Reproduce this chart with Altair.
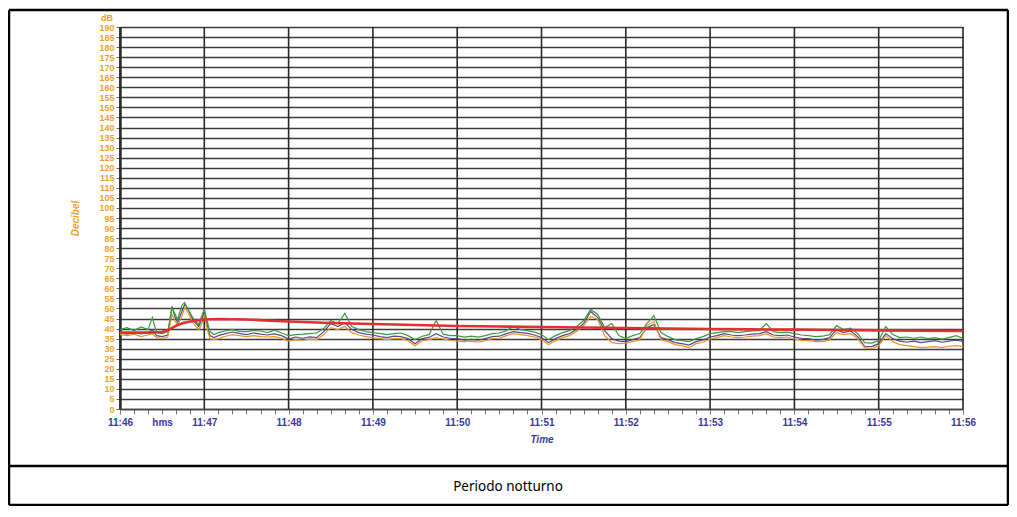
import altair as alt
import pandas as pd

# sample times in seconds after 11:46:00
t_head = [0, 5, 10, 15, 20, 23, 26, 30, 34, 37, 39, 41, 44, 46, 48, 51, 53, 56, 58, 60, 62, 64, 67, 70]
t_tail = list(range(75, 601, 5))
times = t_head + t_tail

purple = [37.8, 37.2, 38.0, 37.4, 37.9, 39.5, 36.5, 36.0, 36.8, 51.0, 46.0, 43.0, 48.5, 52.0, 50.5, 45.5, 43.5, 41.0, 44.0, 48.5, 42.0, 36.5, 35.5, 36.5,
          37.5, 38.3, 37.6, 37.0, 37.8, 37.2, 36.8, 37.4, 36.5, 34.8,
          35.8, 35.2, 35.9, 35.5, 38.5, 42.5, 41.0, 43.0, 39.5, 38.0,
          37.2, 36.8, 36.0, 35.5, 36.2, 36.0, 35.0, 32.5, 35.0, 35.6,
          37.5, 35.8, 35.2, 35.0, 34.3, 34.6, 34.2, 35.0, 36.0, 36.2,
          37.5, 38.5, 38.0, 37.6, 36.8, 35.5, 33.0, 35.0, 36.5, 37.5,
          39.5, 42.5, 48.5, 45.5, 39.0, 35.0, 33.8, 33.5, 34.5, 35.5,
          40.5, 42.0, 35.5, 34.5, 33.0, 32.5, 31.8, 33.5, 34.3, 35.8,
          36.5, 37.5, 36.8, 36.5, 36.8, 37.2, 37.5, 38.5, 36.8, 36.5,
          36.8, 35.8, 35.2, 35.0, 34.3, 34.5, 35.5, 39.5, 38.0, 38.8,
          36.0, 31.2, 31.0, 32.5, 37.5, 35.0, 33.8, 33.2, 33.8, 33.0,
          33.5, 34.0, 33.2, 33.8, 34.2, 33.6]

green = [39.5, 40.5, 39.0, 40.8, 39.5, 45.5, 38.0, 37.5, 38.5, 50.5, 47.5, 44.5, 51.5, 53.0, 50.0, 46.5, 44.0, 42.0, 46.0, 49.5, 44.0, 38.5, 37.0, 38.0,
         38.8, 39.5, 38.6, 38.5, 39.0, 38.8, 38.0, 39.2, 37.8, 36.5,
         37.0, 37.2, 37.5, 37.8, 40.0, 44.0, 42.5, 47.5, 41.0, 39.5,
         38.5, 38.0, 37.5, 37.0, 37.5, 37.8, 36.5, 34.5, 36.2, 37.0,
         44.0, 37.2, 36.5, 36.5, 35.8, 36.2, 35.8, 36.5, 37.5, 37.8,
         39.0, 41.0, 39.5, 39.0, 38.2, 37.0, 34.5, 36.5, 38.0, 39.0,
         41.0, 44.0, 49.5, 47.0, 40.5, 42.5, 36.5, 35.0, 36.5, 37.5,
         42.5, 46.5, 38.0, 36.0, 34.5, 34.0, 33.5, 35.0, 36.0, 37.5,
         38.0, 38.5, 38.5, 38.0, 38.5, 38.8, 39.0, 42.5, 38.5, 38.0,
         38.2, 37.5, 36.8, 36.5, 36.0, 36.2, 37.0, 41.5, 39.5, 40.2,
         37.5, 33.0, 32.8, 34.0, 41.0, 37.0, 35.5, 35.8, 35.2, 35.8,
         35.0, 35.5, 34.8, 35.5, 36.5, 35.2]

orange = [37.0, 36.5, 37.2, 36.0, 36.8, 37.5, 35.5, 35.0, 35.8, 47.0, 44.0, 41.5, 46.0, 50.5, 48.5, 44.0, 42.0, 39.5, 42.0, 46.5, 40.0, 35.0, 34.5, 35.0,
          36.2, 37.0, 36.5, 36.0, 36.5, 36.0, 35.8, 36.0, 35.2, 33.8,
          34.5, 34.2, 34.8, 34.5, 37.0, 40.5, 39.5, 41.0, 38.0, 36.8,
          36.0, 35.5, 35.0, 34.5, 35.0, 35.0, 34.0, 31.5, 34.0, 34.5,
          35.5, 34.8, 34.2, 33.8, 33.5, 33.8, 33.2, 34.0, 35.0, 35.2,
          36.5, 37.5, 37.0, 36.5, 35.8, 34.5, 32.0, 34.0, 35.5, 36.5,
          38.5, 41.5, 46.0, 44.5, 36.5, 33.0, 32.5, 32.8, 33.5, 34.5,
          41.5, 43.5, 34.5, 33.5, 32.0, 31.5, 30.5, 32.5, 33.2, 34.8,
          35.5, 36.5, 35.8, 35.5, 35.8, 36.2, 36.5, 37.5, 35.8, 35.5,
          35.8, 34.8, 34.2, 34.0, 33.5, 33.5, 34.5, 38.0, 37.0, 37.5,
          35.0, 30.5, 30.0, 31.5, 36.5, 33.5, 32.0, 31.5, 31.0, 30.5,
          30.8, 31.0, 30.5, 31.2, 31.5, 31.0]

red_t = [0, 20, 30, 35, 40, 45, 50, 60, 70, 90, 120, 150, 180, 210, 240, 270, 300, 330, 360, 390, 420, 450, 480, 510, 540, 570, 600]
red_v = [38.0, 38.0, 38.3, 39.5, 41.5, 42.8, 43.5, 44.5, 44.8, 44.5, 43.5, 42.8, 42.3, 41.8, 41.3, 41.0, 40.8, 40.5, 40.3, 40.0, 39.8, 39.6, 39.5, 39.3, 39.1, 38.9, 38.8]

minute_marks = list(range(0, 601, 60))
tick_marks = list(range(0, 601, 10))
y_ticks = list(range(0, 191, 5))

W, H = 843, 382
ORANGE = "#f0a030"
BLUE = "#3a3a9a"

xs = alt.Scale(domain=[0, 600], nice=False)
ys = alt.Scale(domain=[0, 190], nice=False)

x_axis = alt.Axis(values=tick_marks, grid=False,
                  labelExpr="datum.value == 30 ? 'hms' : (datum.value % 60 == 0 ? '11:' + (46 + datum.value / 60) : '')",
                  labelColor=BLUE, labelFont="Liberation Sans", labelFontWeight="bold", labelFontSize=10,
                  labelPadding=3, labelOverlap=False, labelFlush=False,
                  tickColor="#777", tickSize=5, tickWidth=1, domainColor="#444", domainWidth=1.5,
                  title="Time", titleColor=BLUE, titleFont="Liberation Sans", titleFontStyle="italic",
                  titleFontWeight="bold", titleFontSize=10, titlePadding=7)

y_axis = alt.Axis(values=y_ticks, grid=True, gridColor="#3c3c3c", gridWidth=1.5,
                  labelColor=ORANGE, labelFont="Liberation Sans", labelFontWeight="bold", labelFontSize=9,
                  labelPadding=2, labelOverlap=False, labelBound=False, labelFlush=False,
                  tickColor="#666", tickSize=4, domainColor="#333", domainWidth=2.5,
                  title="Decibel", titleColor=ORANGE, titleFont="Liberation Sans", titleFontStyle="italic",
                  titleFontWeight="bold", titleFontSize=10, titlePadding=18)

X = alt.X("t:Q", scale=xs, axis=x_axis)
Y = alt.Y("db:Q", scale=ys, axis=y_axis)

df = pd.DataFrame({"t": times * 3,
                   "db": purple + orange + green,
                   "s": ["purple"] * len(times) + ["orange"] * len(times) + ["green"] * len(times)})
red_df = pd.DataFrame({"t": red_t, "db": red_v})
grid_df = pd.DataFrame({"t": minute_marks})
one = pd.DataFrame({"a": [0]})

y_holder = alt.Chart(red_df).mark_point(opacity=0).encode(x=X, y=Y)

vgrid = alt.Chart(grid_df).mark_rule(color="#2a2a2a", strokeWidth=1.6).encode(
    x=X, y=alt.value(0), y2=alt.value(H))

def series(name, color, w):
    return alt.Chart(df).transform_filter(alt.datum.s == name).mark_line(
        color=color, strokeWidth=w).encode(x=X, y=Y)

red_line = alt.Chart(red_df).mark_line(color="#e03030", strokeWidth=2.6).encode(x=X, y=Y)

def hrule(y, x1, x2, w=2.5):
    return alt.Chart(one).mark_rule(color="black", strokeWidth=w).encode(
        x=alt.value(x1), x2=alt.value(x2), y=alt.value(y))

def vrule(x, y1, y2, w=2.5):
    return alt.Chart(one).mark_rule(color="black", strokeWidth=w).encode(
        x=alt.value(x), y=alt.value(y1), y2=alt.value(y2))

L, R, T, D, B = -111, 888, -17, 439, 478
frame = [hrule(T, L, R), hrule(D, L, R), hrule(B, L, R), vrule(L, T, B), vrule(R, T, B)]

db_label = alt.Chart(one).mark_text(text="dB", color=ORANGE, font="Liberation Sans", fontWeight="bold",
                                    fontSize=9, align="right", baseline="middle").encode(
    x=alt.value(-7), y=alt.value(-9))

caption = alt.Chart(one).mark_text(text="Periodo notturno", color="black", font="Noto Sans",
                                   fontSize=13.5, align="center", baseline="middle").encode(
    x=alt.value(388), y=alt.value(460))

chart = alt.layer(
    y_holder, vgrid,
    series("purple", "#5a4a8c", 1.2),
    series("orange", "#ec9420", 1.2),
    series("green", "#3d9a3d", 1.2),
    red_line, db_label, caption, *frame
).properties(
    width=W, height=H,
    autosize=alt.AutoSizeParams(type="none"),
    padding={"left": 112, "top": 19, "right": 46, "bottom": 97},
).configure_view(strokeWidth=0).configure(background="white")

chart.save("out.html", embed_options={"renderer": "svg", "actions": False})
